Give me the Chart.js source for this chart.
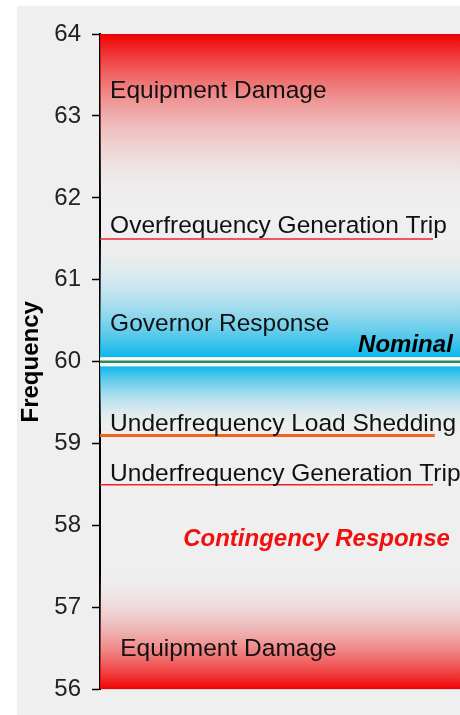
<!DOCTYPE html>
<html>
<head>
<meta charset="utf-8">
<script src="https://cdn.jsdelivr.net/npm/chart.js@4.4.1/dist/chart.umd.min.js"></script>
<style>
  html, body { margin: 0; padding: 0; background: #ffffff; }
  #wrap { position: absolute; left: 17px; top: 6px; width: 443px; height: 709px; background: #efefef; }
</style>
</head>
<body>
<div id="wrap"><canvas id="freqChart" width="443" height="709"></canvas></div>
<script>
// y axis ticks (Hz)
const yTicks = [56, 57, 58, 59, 60, 61, 62, 63, 64];

// shaded bands: strong edge -> faded edge
const bandEdge = [64, 60.055, 59.945, 56];
const bandFade = [61.9, 61.5, 59.15, 57.45];

// limit lines
const limitNames = ['Overfrequency Generation Trip', 'Nominal', 'Underfrequency Load Shedding', 'Underfrequency Generation Trip'];
const limitFreq = [61.5, 60, 59.1, 58.5];
const limitEnd = [0.925, 1, 0.93, 0.925];

// text labels (baseline frequency)
const labelTexts = ['Equipment Damage', 'Overfrequency Generation Trip', 'Governor Response', 'Nominal',
  'Underfrequency Load Shedding', 'Underfrequency Generation Trip', 'Contingency Response', 'Equipment Damage'];
const labelFreq = [63.22, 61.57, 60.38, 60.12, 59.15, 58.54, 57.75, 56.41];

const RED = '#f00000';
const BLUE = '#0ab6ea';
const GRAY = '#efefef';
const bandColors = [RED, BLUE, BLUE, RED];

function bandGradient(i) {
  return function (context) {
    const chart = context.chart;
    const area = chart.chartArea;
    if (!area) return 'rgba(0,0,0,0)';
    const y = chart.scales.y;
    const g = chart.ctx.createLinearGradient(0, y.getPixelForValue(bandEdge[i]), 0, y.getPixelForValue(bandFade[i]));
    g.addColorStop(0, bandColors[i]);
    g.addColorStop(1, 'rgba(239,239,239,0)');
    return g;
  };
}

const datasets = [];
bandEdge.forEach((v, i) => {
  datasets.push({
    label: 'band' + i,
    data: [{ x: 0, y: v }, { x: 1, y: v }],
    fill: { value: bandFade[i] },
    backgroundColor: bandGradient(i),
    borderWidth: 0,
    pointRadius: 0,
    order: 10
  });
});

// white halo round the nominal line
datasets.push({
  label: 'nominal halo',
  data: [{ x: 0, y: limitFreq[1] }, { x: limitEnd[1], y: limitFreq[1] }],
  borderColor: '#f4f8f6',
  borderWidth: 9,
  pointRadius: 0,
  fill: false,
  order: 5
});

const limitStyle = [
  { color: '#e8262c', width: 1.5 },
  { color: '#2e8a5a', width: 2.5 },
  { color: '#f26418', width: 3 },
  { color: '#e8262c', width: 1.5 }
];
limitNames.forEach((n, i) => {
  datasets.push({
    label: n,
    data: [{ x: 0, y: limitFreq[i] }, { x: limitEnd[i], y: limitFreq[i] }],
    borderColor: limitStyle[i].color,
    borderWidth: limitStyle[i].width,
    pointRadius: 0,
    fill: false,
    order: 1
  });
});

const labelStyle = [
  { x: 0.028, align: 'left', font: '24.5px "Liberation Sans"', color: '#111' },
  { x: 0.028, align: 'left', font: '24.5px "Liberation Sans"', color: '#111' },
  { x: 0.028, align: 'left', font: '24.5px "Liberation Sans"', color: '#111' },
  { x: 0.98, align: 'right', font: 'italic bold 24px "Liberation Sans"', color: '#000' },
  { x: 0.028, align: 'left', font: '24.5px "Liberation Sans"', color: '#111' },
  { x: 0.028, align: 'left', font: '24.5px "Liberation Sans"', color: '#111' },
  { x: 0.972, align: 'right', font: 'italic bold 24px "Liberation Sans"', color: '#f01010' },
  { x: 0.056, align: 'left', font: '24.5px "Liberation Sans"', color: '#111' }
];

const zoneLabels = {
  id: 'zoneLabels',
  afterDatasetsDraw(chart) {
    const c = chart.ctx;
    const xs = chart.scales.x, ys = chart.scales.y;
    c.save();
    c.textBaseline = 'alphabetic';
    labelTexts.forEach((t, i) => {
      const s = labelStyle[i];
      c.font = s.font;
      c.fillStyle = s.color;
      c.textAlign = s.align;
      c.fillText(t, xs.getPixelForValue(s.x), ys.getPixelForValue(labelFreq[i]));
    });
    c.restore();
  }
};

new Chart(document.getElementById('freqChart'), {
  type: 'line',
  data: { datasets: datasets },
  options: {
    responsive: false,
    animation: false,
    layout: { padding: { top: 28, right: 0, bottom: 23, left: 0 } },
    plugins: { legend: { display: false }, tooltip: { enabled: false } },
    scales: {
      x: { type: 'linear', min: 0, max: 1, display: false },
      y: {
        type: 'linear',
        min: 56,
        max: 64,
        z: 1,
        afterBuildTicks: (scale) => { scale.ticks = yTicks.map(v => ({ value: v })); },
        afterFit: (scale) => { scale.width = 83; },
        ticks: {
          padding: 11,
          color: '#222',
          font: { family: 'Liberation Sans', size: 24 }
        },
        grid: { drawOnChartArea: false, tickLength: 8, tickColor: '#000', tickWidth: 1.5 },
        border: { color: '#000', width: 2 },
        title: {
          display: true,
          text: 'Frequency',
          color: '#000',
          font: { family: 'Liberation Sans', size: 24, weight: 'bold' },
          padding: { top: 0, bottom: 0 }
        }
      }
    }
  },
  plugins: [zoneLabels]
});
</script>
</body>
</html>
